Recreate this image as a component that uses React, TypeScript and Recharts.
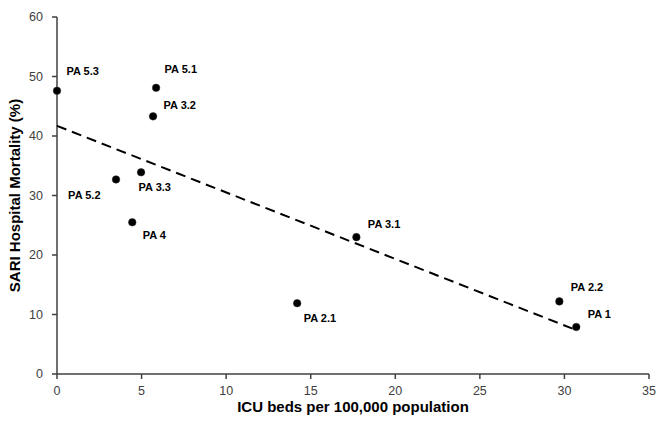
import React from "react";
import { ScatterChart, Scatter, XAxis, YAxis, LabelList } from "recharts";

const regionNames = ["PA 5.3", "PA 5.1", "PA 3.2", "PA 3.3", "PA 5.2", "PA 4", "PA 3.1", "PA 2.1", "PA 2.2", "PA 1"];
const icuBeds = [0, 5.86, 5.68, 4.97, 3.49, 4.45, 17.7, 14.2, 29.7, 30.7];
const mortality = [47.6, 48.1, 43.3, 33.9, 32.7, 25.5, 23.0, 11.9, 12.2, 7.9];

const trendX = [0, 30.5];
const trendY = [41.7, 7.6];

const xTicks = [0, 5, 10, 15, 20, 25, 30, 35];
const yTicks = [0, 10, 20, 30, 40, 50, 60];

// label placement (layout only)
const labelOffsets: Record<string, [number, number, string]> = {
  "PA 5.3": [14, -15, "start"],
  "PA 5.1": [13, -14, "start"],
  "PA 3.2": [15, -7, "start"],
  "PA 3.3": [2, 19, "start"],
  "PA 5.2": [-11, 20, "end"],
  "PA 4": [15, 17, "start"],
  "PA 3.1": [16, -9, "start"],
  "PA 2.1": [11, 19, "start"],
  "PA 2.2": [16, -10, "start"],
  "PA 1": [16, -8, "start"],
};

const points = regionNames.map((name, i) => ({ name, x: icuBeds[i], y: mortality[i] }));
const trend = trendX.map((x, i) => ({ x, y: trendY[i] }));

const PointLabel = (props: any) => {
  const { x, y, value } = props;
  const off = labelOffsets[value] || [10, -10, "start"];
  return (
    <text
      x={x + off[0]}
      y={y + off[1]}
      textAnchor={off[2]}
      dominantBaseline="central"
      fontFamily="Liberation Sans, Arial, sans-serif"
      fontWeight="bold"
      fontSize={11}
      fill="#000"
    >
      {value}
    </text>
  );
};

const Dot = (props: any) => {
  const { cx, cy } = props;
  return <circle cx={cx} cy={cy} r={3.8} fill="#000" stroke="#333" strokeWidth={0.5} />;
};

const tickStyle = { fontFamily: "Liberation Sans, Arial, sans-serif", fontSize: 12.5, fill: "#404040" };
const titleStyle = { fontFamily: "Liberation Sans, Arial, sans-serif", fontSize: 15, fontWeight: "bold", fill: "#000" };

export default function App() {
  return (
    <div style={{ position: "absolute", left: 0, top: 0, width: 658, height: 422, background: "#fff" }}>
      <ScatterChart width={658} height={422} margin={{ top: 17, right: 9, left: 0, bottom: 0 }}>
        <XAxis
          type="number"
          dataKey="x"
          domain={[0, 35]}
          ticks={xTicks}
          height={48}
          tickSize={5}
          tickMargin={7}
          tick={tickStyle}
          stroke="#404040"
          strokeWidth={1.5}
          label={{ value: "ICU beds per 100,000 population", position: "insideBottom", offset: 10, style: titleStyle }}
        />
        <YAxis
          type="number"
          dataKey="y"
          domain={[0, 60]}
          ticks={yTicks}
          width={57}
          tickSize={5}
          tickMargin={9}
          tick={tickStyle}
          stroke="#404040"
          strokeWidth={1.5}
          label={{ value: "SARI Hospital Mortality (%)", angle: -90, position: "insideLeft", offset: 15, style: { ...titleStyle, textAnchor: "middle" } }}
        />
        <Scatter
          data={trend}
          isAnimationActive={false}
          line={{ stroke: "#000", strokeWidth: 2, strokeDasharray: "10 6" }}
          shape={() => null}
        />
        <Scatter data={points} isAnimationActive={false} shape={<Dot />}>
          <LabelList dataKey="name" content={<PointLabel />} />
        </Scatter>
      </ScatterChart>
    </div>
  );
}
